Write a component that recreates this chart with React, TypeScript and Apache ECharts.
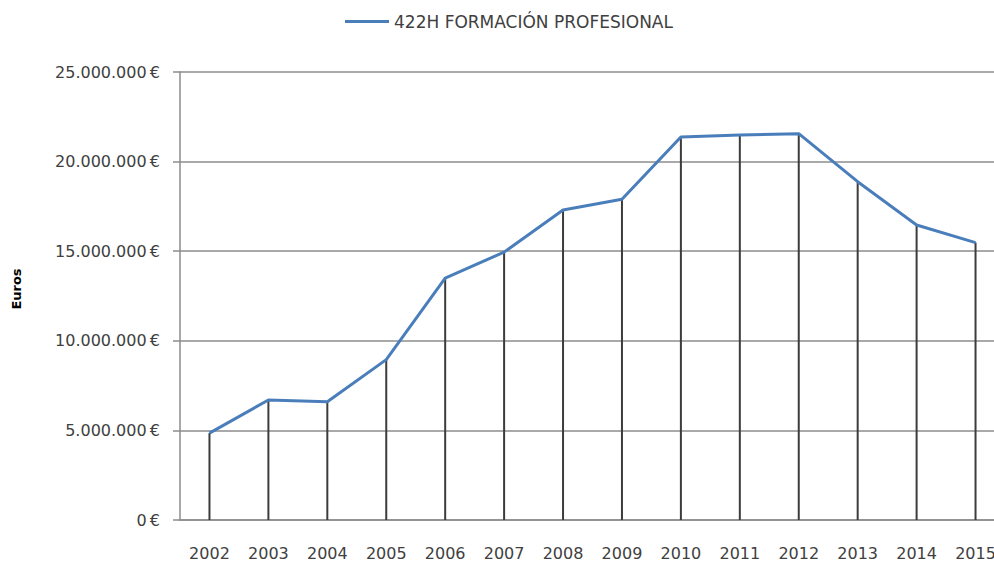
import React, { useEffect, useRef } from "react";
import * as echarts from "echarts";

const years = ["2002", "2003", "2004", "2005", "2006", "2007", "2008", "2009", "2010", "2011", "2012", "2013", "2014", "2015"];
const formacionProfesional = [4850000, 6700000, 6600000, 8950000, 13500000, 14950000, 17300000, 17900000, 21370000, 21480000, 21560000, 18880000, 16460000, 15480000];
const seriesName = "422H FORMACIÓN PROFESIONAL";
const axisTitle = "Euros";

const euro = (v: number) => String(v).replace(/\B(?=(\d{3})+(?!\d))/g, ".") + "\u2009€";

export default function App() {
  const ref = useRef<HTMLDivElement>(null);

  useEffect(() => {
    if (!ref.current) return;
    const chart = echarts.init(ref.current, undefined, { renderer: "svg" });
    const font = "DejaVu Sans";
    chart.setOption({
      animation: false,
      backgroundColor: "#ffffff",
      textStyle: { fontFamily: font },
      legend: {
        data: [seriesName],
        left: 340,
        top: 8,
        icon: "rect",
        itemWidth: 44,
        itemHeight: 3,
        itemGap: 5,
        textStyle: { fontFamily: font, fontSize: 17, color: "#404040" },
      },
      grid: { left: 180, top: 72, width: 825, height: 448, containLabel: false },
      xAxis: {
        type: "category",
        data: years,
        boundaryGap: true,
        axisLine: { lineStyle: { color: "#8c8c8c", width: 1.5 } },
        axisTick: { show: false },
        axisLabel: { margin: 25, fontSize: 16, color: "#404040", fontFamily: font, interval: 0 },
        splitLine: { show: false },
      },
      yAxis: {
        type: "value",
        min: 0,
        max: 25000000,
        interval: 5000000,
        axisLine: { show: true, lineStyle: { color: "#8c8c8c", width: 1.5 } },
        axisTick: { show: true, length: 7, lineStyle: { color: "#8c8c8c", width: 1.5 } },
        axisLabel: { margin: 20, fontSize: 16, color: "#404040", fontFamily: font, formatter: (v: number) => euro(v) },
        splitLine: { show: true, lineStyle: { color: "#8c8c8c", width: 1.5 } },
      },
      graphic: [
        {
          type: "text",
          x: 16,
          y: 289,
          rotation: Math.PI / 2,
          style: {
            text: axisTitle,
            fontFamily: font,
            fontSize: 13,
            fontWeight: "bold",
            fill: "#000000",
            textAlign: "center",
            textVerticalAlign: "middle",
          },
        },
      ],
      series: [
        {
          name: "drop",
          type: "bar",
          data: formacionProfesional,
          barWidth: 2,
          itemStyle: { color: "#3c3c3c" },
          silent: true,
          z: 2,
        },
        {
          name: seriesName,
          type: "line",
          data: formacionProfesional,
          symbol: "none",
          showSymbol: false,
          lineStyle: { color: "#4a7ebb", width: 3 },
          itemStyle: { color: "#4a7ebb" },
          z: 3,
        },
      ],
    });
    return () => chart.dispose();
  }, []);

  return (
    <div style={{ position: "fixed", left: 0, top: 0, width: 994, height: 566, overflow: "hidden", background: "#fff" }}>
      <div ref={ref} style={{ width: 1030, height: 566 }} />
    </div>
  );
}
